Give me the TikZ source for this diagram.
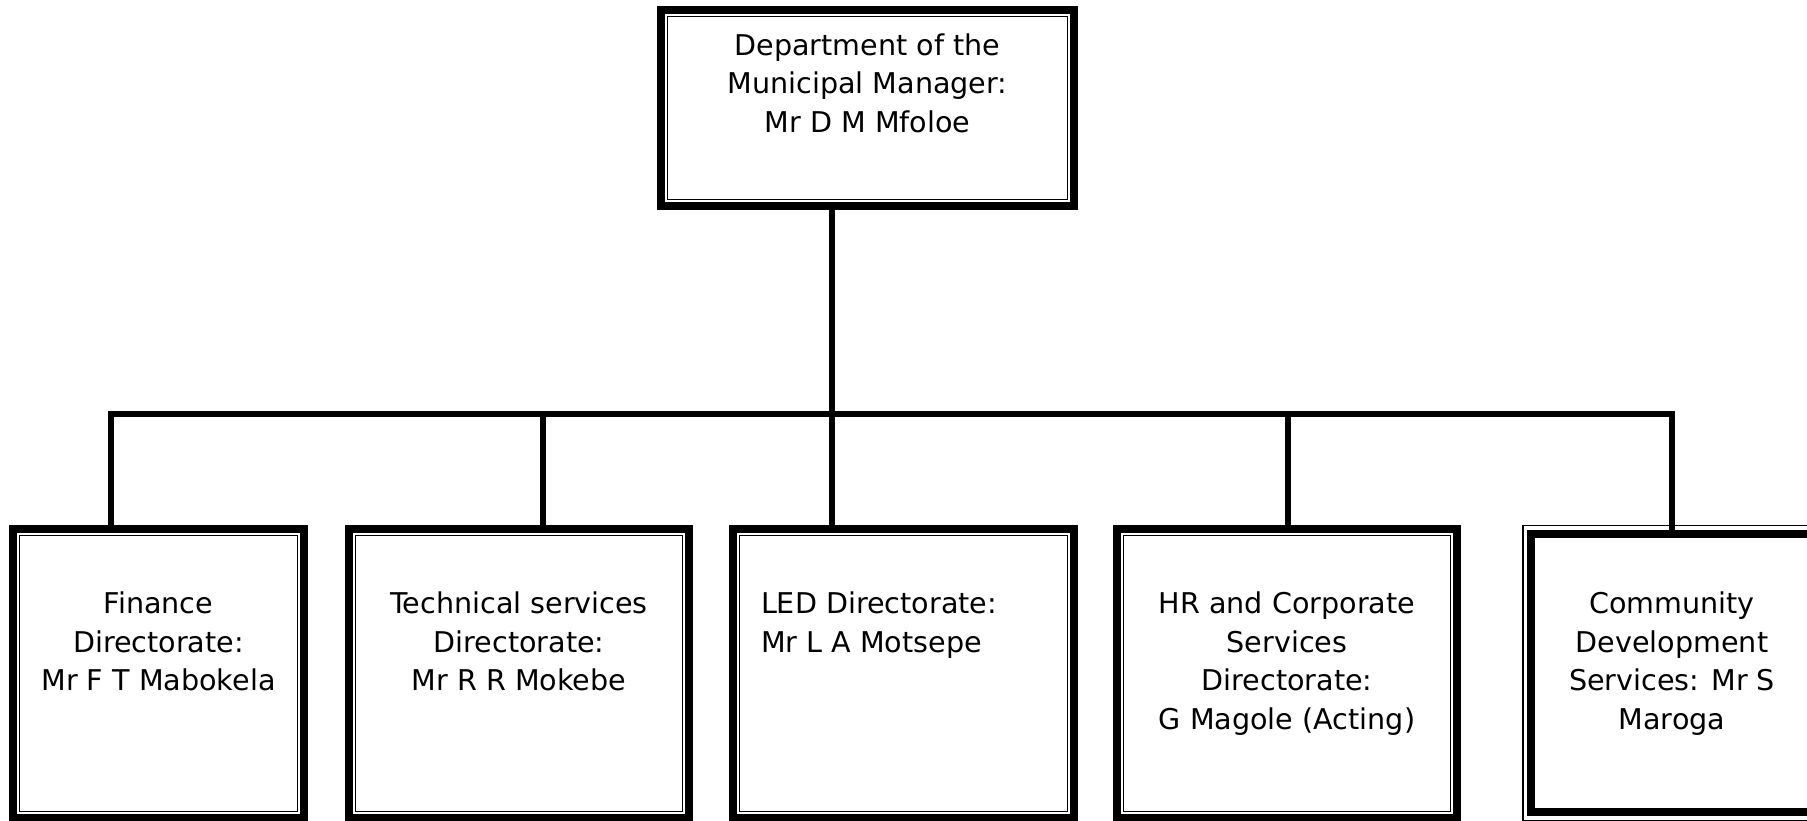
\documentclass[tikz,border=0pt]{standalone}
\usepackage{fontspec}
\setmainfont{DejaVu Sans}
\begin{document}
\begin{tikzpicture}[x=1pt,y=-1pt,
  conn/.style={line width=6pt},
  unitbox/.style={draw, line width=8pt, minimum width=#1, minimum height=289pt,
    inner sep=0pt, outer sep=0pt,
    path picture={\draw[line width=1.5pt]
      ([shift={(6.5pt,-6.5pt)}]path picture bounding box.north west) rectangle
      ([shift={(-6.5pt,6.5pt)}]path picture bounding box.south east);}},
  revbox/.style={draw, line width=1.5pt, minimum width=#1, minimum height=294.75pt,
    inner sep=0pt, outer sep=0pt,
    path picture={\draw[line width=8pt]
      ([shift={(8pt,-8pt)}]path picture bounding box.north west) rectangle
      ([shift={(-8pt,8pt)}]path picture bounding box.south east);}},
  txt/.style={font=\fontsize{28.6}{38.5}\selectfont, align=center, inner sep=0pt, outer sep=0pt}]
\useasboundingbox (0,0) rectangle (1807,821);
\clip (0,0) rectangle (1807,821);

% boxes
\node[unitbox=413pt, minimum height=196pt] (top) at (867.5,108) {};
\node[unitbox=291pt] (fin) at (158.5,673.5) {};
\node[unitbox=340pt] (tec) at (519,673.5) {};
\node[unitbox=341pt] (led) at (903.5,673.5) {};
\node[unitbox=340pt] (hr) at (1287,673.5) {};
\node[revbox=298.5pt] (com) at (1672,673.1) {};

% bus junctions
\coordinate (b1) at (111,413.5);
\coordinate (b2) at (543,413.5);
\coordinate (b3) at (831.5,413.5);
\coordinate (b4) at (1288,413.5);
\coordinate (b5) at (1671.5,413.5);

% connectors
\draw[conn] (b1 |- fin.north) -- (b1) -- (b5) -- (b5 |- com.north) -- ++(0,5);
\draw[conn] (b3 |- top.south) -- (b3 |- led.north);
\draw[conn] (b2) -- (b2 |- tec.north);
\draw[conn] (b4) -- (b4 |- hr.north);

% texts
\node[txt, anchor=north] (topt) at ([yshift=-18.5pt]top.north)
  {\strut Department of the\\Municipal Manager:\\Mr D M Mfoloe};
\node[txt, anchor=north] (fint) at ([yshift=-58pt]fin.north)
  {\strut Finance\\Directorate:\\Mr F T Mabokela};
\node[txt, anchor=north] (tect) at ([yshift=-58pt]tec.north)
  {\strut Technical services\\Directorate:\\Mr R R Mokebe};
\node[txt, anchor=north west, align=left] (ledt) at ([yshift=-58pt]led.north -| 761,0)
  {\strut LED Directorate:\\Mr L A Motsepe};
\node[txt, anchor=north] (hrt) at ([yshift=-58pt]hr.north)
  {\strut HR and Corporate\\Services\\Directorate:\\G Magole (Acting)};
\node[txt, anchor=north] (comt) at ([yshift=-61pt]com.north)
  {\strut Community\\Development\\Services: Mr S\\Maroga};
\end{tikzpicture}
\end{document}
